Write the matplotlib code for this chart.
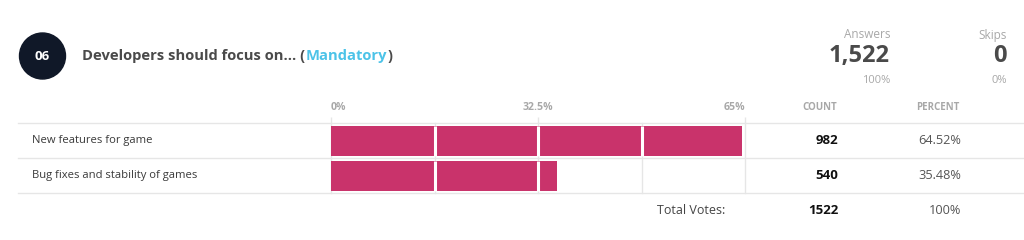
import matplotlib
matplotlib.use("Agg")
import matplotlib.pyplot as plt
from matplotlib.patches import Circle

# ---- data ----
question_no = "06"
question = "Developers should focus on... ("
tag = "Mandatory"
options = ["New features for game", "Bug fixes and stability of games"]
counts = [982, 540]
percents = [64.52, 35.48]
answers = 1522
skips = 0
axis_max = 65
tick_vals = [0, 32.5, 65]
tick_labels = ["0%", "32.5%", "65%"]
minor_vals = [16.25, 48.75]

# ---- style ----
W, H = 1024, 240
FONT = "Open Sans"
BAR = "#c9336b"
GRID = "#e6e6e6"
DARK = "#4a4a4a"
LIGHT = "#a8a8a8"
CYAN = "#4cc3e8"

plt.rcParams["font.family"] = [FONT, "DejaVu Sans"]

fig = plt.figure(figsize=(W / 100, H / 100), dpi=100)
fig.patch.set_facecolor("white")

# overlay axes in pixel coordinates (y down)
ov = fig.add_axes([0, 0, 1, 1])
ov.set_xlim(0, W)
ov.set_ylim(H, 0)
ov.axis("off")

# header: number badge + title
ov.add_patch(Circle((42.5, 56), 23, color="#101828", zorder=3))
ov.text(42.5, 56.5, question_no, color="white", fontsize=9.5, fontweight="bold",
        ha="center", va="center", zorder=4)

fig.canvas.draw()
renderer = fig.canvas.get_renderer()
x = 82.5
for part, col in [(question, DARK), (tag, CYAN), (")", DARK)]:
    t = ov.text(x, 56, part, color=col, fontsize=10.6, fontweight="bold",
                ha="left", va="center")
    bb = t.get_window_extent(renderer)
    x += bb.width

# answers / skips block
for xr, lab, val, pct in [(890, "Answers", f"{answers:,}", "100%"),
                          (1006.5, "Skips", f"{skips:,}", "0%")]:
    ov.text(xr, 35, lab, color=LIGHT, fontsize=8.5, ha="right", va="center")
    ov.text(xr, 56, val, color=DARK, fontsize=17, fontweight="bold", ha="right", va="center")
    ov.text(xr, 80.5, pct, color=LIGHT, fontsize=8, ha="right", va="center")

# table rows
row_top, row_h = 123, 35
for i in range(len(options) + 1):
    ov.plot([18, W], [row_top + i * row_h] * 2, color=GRID, lw=1, zorder=1)

for i, (opt, c, p) in enumerate(zip(options, counts, percents)):
    yc = row_top + row_h * i + row_h / 2
    ov.text(32.5, yc, opt, color="#3a3a3a", fontsize=8.1, ha="left", va="center")
    ov.text(838, yc, str(c), color="#111111", fontsize=9.5, fontweight="bold",
            ha="right", va="center")
    ov.text(961, yc, f"{p:.2f}%", color="#555555", fontsize=9.2, ha="right", va="center")

ov.text(820, 107.5, "COUNT", color=LIGHT, fontsize=7, fontweight="bold", ha="center", va="center")
ov.text(938, 107.5, "PERCENT", color=LIGHT, fontsize=7, fontweight="bold", ha="center", va="center")

yt = row_top + row_h * len(options) + 18
ov.text(725, yt, "Total Votes:", color="#444444", fontsize=9, ha="right", va="center")
ov.text(838, yt, str(sum(counts)), color="#111111", fontsize=9.5, fontweight="bold",
        ha="right", va="center")
ov.text(961, yt, "100%", color="#555555", fontsize=9.2, ha="right", va="center")

# bar axes
bx0, bx1 = 331, 745
by0, by1 = row_top, row_top + row_h * len(options)
ax = fig.add_axes([bx0 / W, 1 - by1 / H, (bx1 - bx0) / W, (by1 - by0) / H])
ax.set_xlim(0, axis_max)
ax.set_ylim(len(options) - 0.5, -0.5)
ax.patch.set_alpha(0)
for s in ax.spines.values():
    s.set_visible(False)

bar_h = 30 / 35
ypos = list(range(len(options)))
ax.barh(ypos, percents, height=bar_h, color=BAR, zorder=2)

for v in tick_vals + minor_vals:
    ax.axvline(v, color=GRID, lw=1, zorder=0, clip_on=False)
# white gaps where gridlines cross the bars
for y, p in zip(ypos, percents):
    for v in tick_vals[1:-1] + minor_vals:
        if v < p:
            ax.vlines(v, y - bar_h / 2, y + bar_h / 2, color="white", lw=2.2, zorder=3)

ax.set_yticks([])
ax.set_xticks(tick_vals)
ax.set_xticklabels(tick_labels)
ax.xaxis.tick_top()
ax.tick_params(axis="x", direction="out", length=4, width=1, color=GRID, pad=3,
               labelsize=7.6, labelcolor=LIGHT)
for lab, ha in zip(ax.get_xticklabels(), ["left", "center", "right"]):
    lab.set_ha(ha)
    lab.set_fontweight("bold")

fig.savefig("out.png", dpi=100, facecolor="white")
